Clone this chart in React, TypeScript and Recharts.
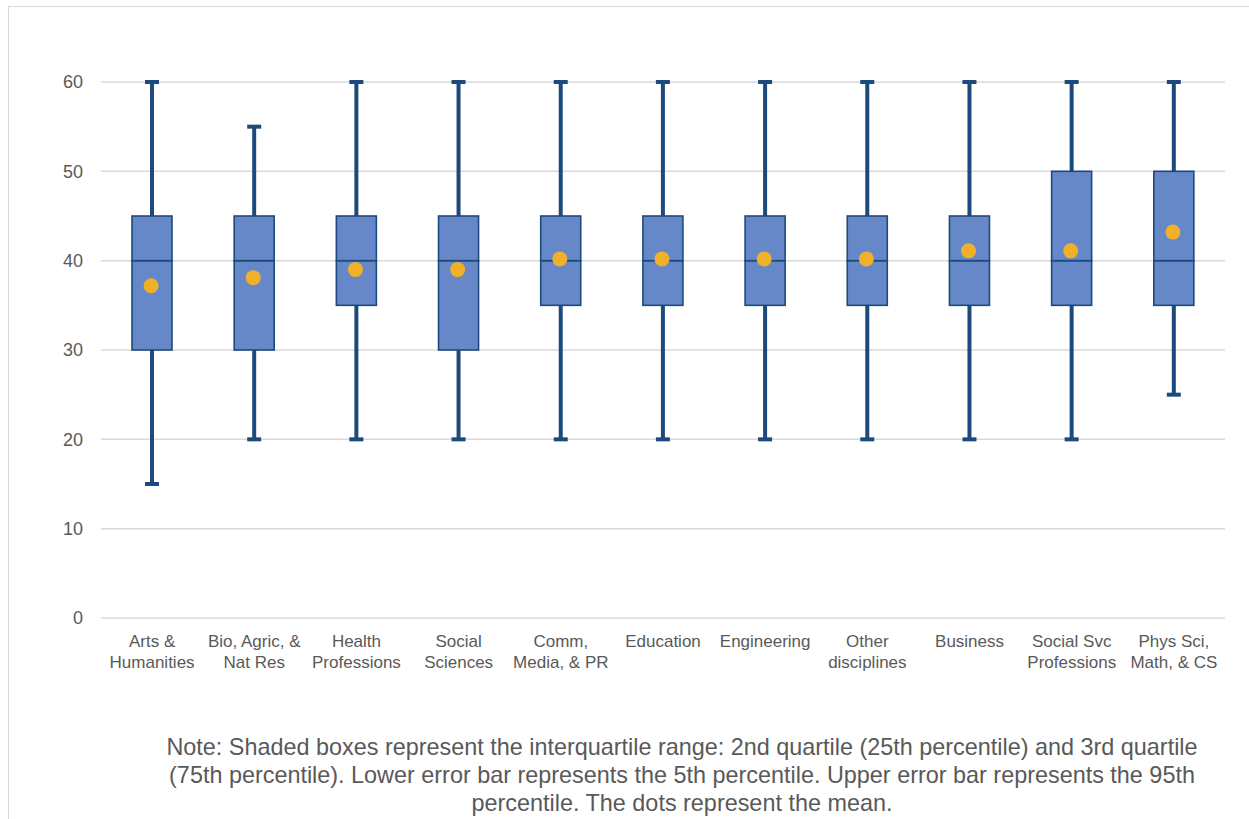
import React from "react"
import { ComposedChart, Bar, Line, XAxis, YAxis, CartesianGrid } from "recharts"

// field of study, split onto two lines like the source
const categories = [
  "Arts &\nHumanities",
  "Bio, Agric, &\nNat Res",
  "Health\nProfessions",
  "Social\nSciences",
  "Comm,\nMedia, & PR",
  "Education",
  "Engineering",
  "Other\ndisciplines",
  "Business",
  "Social Svc\nProfessions",
  "Phys Sci,\nMath, & CS",
]
const p5 = [15, 20, 20, 20, 20, 20, 20, 20, 20, 20, 25]
const q1 = [30, 30, 35, 30, 35, 35, 35, 35, 35, 35, 35]
const median = [40, 40, 40, 40, 40, 40, 40, 40, 40, 40, 40]
const q3 = [45, 45, 45, 45, 45, 45, 45, 45, 45, 50, 50]
const p95 = [60, 55, 60, 60, 60, 60, 60, 60, 60, 60, 60]
const means = [37.2, 38.1, 39.0, 39.0, 40.2, 40.2, 40.2, 40.2, 41.1, 41.1, 43.2]
const yTicks = [0, 10, 20, 30, 40, 50, 60]

const noteLines = [
  "Note: Shaded boxes represent the interquartile range: 2nd quartile (25th percentile) and 3rd quartile",
  "(75th percentile). Lower error bar represents the 5th percentile. Upper error bar represents the 95th",
  "percentile. The dots represent the mean.",
]

// stacked segments: invisible base, lower whisker, two box halves, upper whisker
const data = categories.map((name, i) => ({
  name,
  base: p5[i],
  lowWhisk: q1[i] - p5[i],
  lowBox: median[i] - q1[i],
  highBox: q3[i] - median[i],
  highWhisk: p95[i] - q3[i],
  mean: means[i],
}))

const FONT = '"Liberation Sans", Arial, Helvetica, sans-serif'
const NAVY = "#1d4a7c"
const BOX = "#6688c9"
const GRID = "#d9d9d9"
const TEXT = "#595959"

const Empty = () => <g />

const BoxShape = (p: any) => (
  <rect x={p.x} y={p.y} width={p.width} height={p.height} fill={BOX} stroke={NAVY} strokeWidth={1.6} />
)

const whisker = (capAtTop: boolean) => (p: any) => {
  const cx = p.x + p.width / 2
  const capY = capAtTop ? p.y : p.y + p.height
  return (
    <g>
      <line x1={cx} x2={cx} y1={p.y} y2={p.y + p.height} stroke={NAVY} strokeWidth={4} />
      <line x1={cx - 7} x2={cx + 7} y1={capY} y2={capY} stroke={NAVY} strokeWidth={4} />
    </g>
  )
}

const MeanDot = (p: any) => {
  if (p.cx == null || p.cy == null) return <g key={p.index} />
  return <circle key={p.index} cx={p.cx - 1} cy={p.cy} r={7.5} fill="#f0b12a" />
}

const CatTick = ({ x, y, payload }: any) => {
  const lines = String(payload.value).split("\n")
  return (
    <text x={x} y={y} textAnchor="middle" fill={TEXT} fontSize={17} fontFamily={FONT}>
      {lines.map((l, i) => (
        <tspan key={i} x={x} dy={21}>
          {l}
        </tspan>
      ))}
    </text>
  )
}

export default function App() {
  return (
    <div style={{ position: "relative", width: 1249, height: 819, overflow: "hidden", background: "#fff" }}>
      <style>{"body{margin:0}"}</style>
      <div
        style={{
          position: "absolute",
          left: 8,
          top: 6,
          width: 1241,
          height: 813,
          borderTop: `1.5px solid ${GRID}`,
          borderLeft: `1.5px solid ${GRID}`,
          boxSizing: "border-box",
        }}
      />
      <div style={{ position: "absolute", left: 8, top: 8 }}>
        <ComposedChart
          width={1233}
          height={680}
          data={data}
          margin={{ top: 74, right: 16, left: 33, bottom: 10 }}
          barCategoryGap={0}
        >
          <CartesianGrid vertical={false} stroke={GRID} strokeWidth={1.5} />
          <XAxis dataKey="name" axisLine={false} tickLine={false} height={60} interval={0} tick={<CatTick />} />
          <YAxis
            domain={[0, 60]}
            ticks={yTicks}
            axisLine={false}
            tickLine={false}
            width={60}
            tickSize={16}
            tickMargin={2}
            tick={{ fill: TEXT, fontSize: 18, fontFamily: FONT }}
          />
          <Bar dataKey="base" stackId="a" barSize={40} shape={<Empty />} isAnimationActive={false} />
          <Bar dataKey="lowWhisk" stackId="a" barSize={40} shape={whisker(false)} isAnimationActive={false} />
          <Bar dataKey="lowBox" stackId="a" barSize={40} shape={<BoxShape />} isAnimationActive={false} />
          <Bar dataKey="highBox" stackId="a" barSize={40} shape={<BoxShape />} isAnimationActive={false} />
          <Bar dataKey="highWhisk" stackId="a" barSize={40} shape={whisker(true)} isAnimationActive={false} />
          <Line dataKey="mean" stroke="none" dot={<MeanDot />} activeDot={false} isAnimationActive={false} />
        </ComposedChart>
      </div>
      <div
        style={{
          position: "absolute",
          left: 82,
          width: 1200,
          top: 733,
          textAlign: "center",
          fontFamily: FONT,
          fontSize: 23.4,
          lineHeight: "28px",
          color: TEXT,
        }}
      >
        {noteLines.map((l, i) => (
          <div key={i} style={{ whiteSpace: "nowrap" }}>
            {l}
          </div>
        ))}
      </div>
    </div>
  )
}
